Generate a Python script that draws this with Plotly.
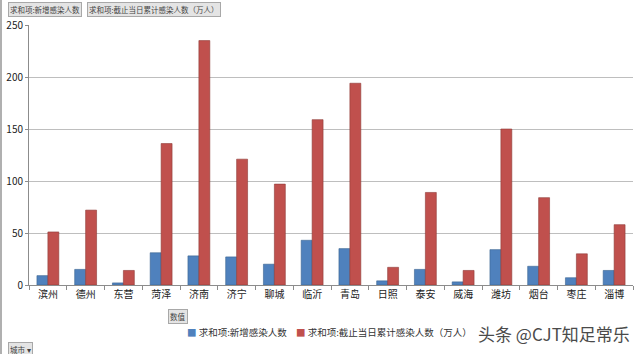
import plotly.graph_objects as go

cities = ["滨州", "德州", "东营", "菏泽", "济南", "济宁", "聊城", "临沂",
          "青岛", "日照", "泰安", "威海", "潍坊", "烟台", "枣庄", "淄博"]
new_cases = [9, 15, 2, 31, 28, 27, 20, 43, 35, 4, 15, 3, 34, 18, 7, 14]
cumulative = [51, 72, 14, 136, 235, 121, 97, 159, 194, 17, 89, 14, 150, 84, 30, 58]
name_new = "求和项:新增感染人数"
name_cum = "求和项:截止当日累计感染人数（万人）"
y_ticks = [0, 50, 100, 150, 200, 250]

FONT = "Noto Sans CJK SC, Microsoft YaHei, sans-serif"
BLUE, RED = "#4F81BD", "#C0504D"

fig = go.Figure()
fig.add_trace(go.Bar(x=cities, y=new_cases, name=name_new,
                     marker=dict(color=BLUE, line=dict(color="#3A6491", width=0.6))))
fig.add_trace(go.Bar(x=cities, y=cumulative, name=name_cum,
                     marker=dict(color=RED, line=dict(color="#8E3A38", width=0.6))))

W, H = 640, 354
L, R, T, B = 29, 7, 25, 69
PW, PH = W - L - R, H - T - B

fig.update_layout(
    width=W, height=H,
    margin=dict(l=L, r=R, t=T, b=B, autoexpand=False),
    paper_bgcolor="white", plot_bgcolor="white",
    barmode="group", bargap=0.42, bargroupgap=0,
    font=dict(family=FONT, size=10, color="#333333"),
    showlegend=False,
    xaxis=dict(showline=True, linecolor="#8c8c8c", linewidth=1,
               ticks="outside", tickson="boundaries", ticklen=4, tickcolor="#8c8c8c",
               tickfont=dict(size=10, color="#222222"), showgrid=False),
    yaxis=dict(range=[0, 250], tickvals=y_ticks, showline=True, linecolor="#8c8c8c",
               linewidth=1, ticks="outside", ticklen=3, tickcolor="#8c8c8c",
               gridcolor="#BEBEBE", gridwidth=1, zeroline=False,
               tickfont=dict(size=10, color="#222222")),
)

def fx(px):
    return (px - L) / PW

def fy(py):
    return (H - B - py) / PH

btn = dict(xref="paper", yref="paper", showarrow=False, bgcolor="#E4E4E4",
           bordercolor="#A8A8A8", borderwidth=1, borderpad=1,
           font=dict(family=FONT, size=7.5, color="#444444"))

annos = []
annos.append(dict(text=name_new, x=fx(8), y=fy(2), xanchor="left", yanchor="top", **btn))
annos.append(dict(text=name_cum, x=fx(87), y=fy(2), xanchor="left", yanchor="top", **btn))
annos.append(dict(text="数值", x=fx(178), y=fy(309), xanchor="center", yanchor="top", **btn))
annos.append(dict(text="城市 ▾", x=fx(8), y=fy(342), xanchor="left", yanchor="top", **btn))

# legend (manual, Excel style small square markers)
leg_font = dict(family=FONT, size=9.5, color="#333333")
annos.append(dict(text=f"<span style='color:{BLUE}'>■</span> {name_new}", xref="paper", yref="paper",
                  x=fx(185), y=fy(332), xanchor="left", yanchor="middle", showarrow=False,
                  font=leg_font))
annos.append(dict(text=f"<span style='color:{RED}'>■</span> {name_cum}", xref="paper", yref="paper",
                  x=fx(294), y=fy(332), xanchor="left", yanchor="middle", showarrow=False,
                  font=leg_font))
# watermark
annos.append(dict(text="头条 @CJT知足常乐", xref="paper", yref="paper",
                  x=fx(632), y=fy(333), xanchor="right", yanchor="middle", showarrow=False,
                  font=dict(family=FONT, size=17, color="#4a4a4a")))
fig.update_layout(annotations=annos)

# left window border
fig.add_shape(type="line", xref="paper", yref="paper",
              x0=fx(1), x1=fx(1), y0=fy(H), y1=fy(0),
              line=dict(color="#B0B0B0", width=2))

fig.write_html("out.html")
